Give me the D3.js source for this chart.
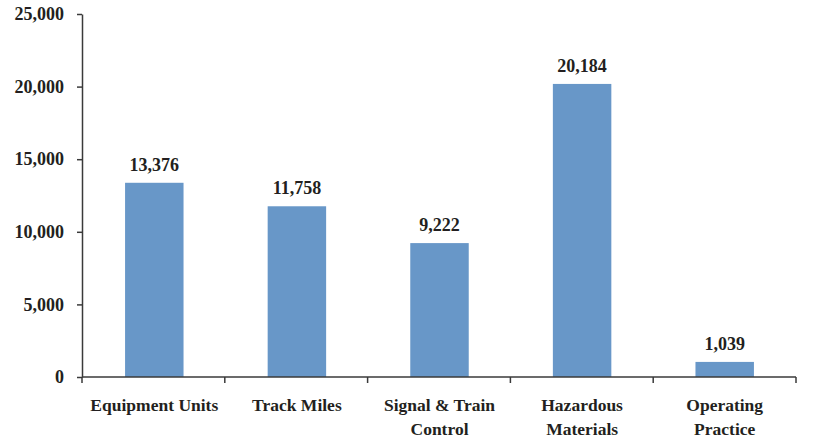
<!DOCTYPE html>
<html>
<head>
<meta charset="utf-8">
<script src="https://cdn.jsdelivr.net/npm/d3@7"></script>
<style>
  html, body { margin: 0; padding: 0; background: #fff; }
  svg { display: block; }
  text { font-family: "Liberation Serif", "DejaVu Serif", serif; font-weight: bold; fill: #231f20; }
</style>
</head>
<body>
<script>
const categories = [["Equipment Units"], ["Track Miles"], ["Signal & Train", "Control"], ["Hazardous", "Materials"], ["Operating", "Practice"]];
const values = [13376, 11758, 9222, 20184, 1039];
const yTicks = [0, 5000, 10000, 15000, 20000, 25000];

const width = 814, height = 439;
const margin = { left: 82, right: 18, top: 14, bottom: 62 };

const svg = d3.select("body").append("svg")
  .attr("width", width).attr("height", height);

const keys = categories.map(c => c.join(" "));

const x = d3.scaleBand()
  .domain(keys)
  .range([margin.left + 1, width - margin.right])
  .paddingInner(0.59)
  .paddingOuter(0.295);

const y = d3.scaleLinear()
  .domain([0, 25000])
  .range([height - margin.bottom, margin.top]);

const fmt = d3.format(",");

// bars
svg.append("g").selectAll("rect")
  .data(values)
  .join("rect")
  .attr("x", (d, i) => x(keys[i]))
  .attr("width", x.bandwidth())
  .attr("y", d => y(d))
  .attr("height", d => y(0) - y(d))
  .attr("fill", "#6897c8");

// value labels
svg.append("g").selectAll("text")
  .data(values)
  .join("text")
  .attr("x", (d, i) => x(keys[i]) + x.bandwidth() / 2)
  .attr("y", d => y(d) - 12)
  .attr("text-anchor", "middle")
  .attr("font-size", 18)
  .text(d => fmt(d));

// y axis
const yAxis = svg.append("g")
  .attr("transform", `translate(${margin.left},0)`)
  .call(d3.axisLeft(y).tickValues(yTicks).tickFormat(fmt).tickSize(5).tickSizeOuter(0).tickPadding(13));
yAxis.select(".domain").attr("stroke", "#3a3a3a").attr("stroke-width", 1.5);
yAxis.selectAll(".tick line").attr("stroke", "#3a3a3a").attr("stroke-width", 1.5);
yAxis.selectAll(".tick text").attr("font-size", 18).attr("fill", "#231f20");

// x axis with category separators
const x0 = margin.left, x1 = width - margin.right;
const gx = svg.append("g");
gx.append("line")
  .attr("x1", x0).attr("x2", x1)
  .attr("y1", y(0)).attr("y2", y(0))
  .attr("stroke", "#3a3a3a").attr("stroke-width", 1.5);
const bounds = d3.range(keys.length + 1).map(i => x0 + i * (x1 - x0) / keys.length);
gx.selectAll("line.sep")
  .data(bounds)
  .join("line")
  .attr("class", "sep")
  .attr("x1", d => d).attr("x2", d => d)
  .attr("y1", y(0)).attr("y2", y(0) + 6)
  .attr("stroke", "#3a3a3a").attr("stroke-width", 1.5);

// category labels
const lab = svg.append("g").selectAll("text")
  .data(categories)
  .join("text")
  .attr("text-anchor", "middle")
  .attr("font-size", 17.5)
  .attr("transform", (d, i) => `translate(${x(keys[i]) + x.bandwidth() / 2},${y(0) + 34})`);
lab.selectAll("tspan")
  .data(d => d)
  .join("tspan")
  .attr("x", 0)
  .attr("dy", (d, j) => j === 0 ? 0 : 24)
  .text(d => d);
</script>
</body>
</html>
